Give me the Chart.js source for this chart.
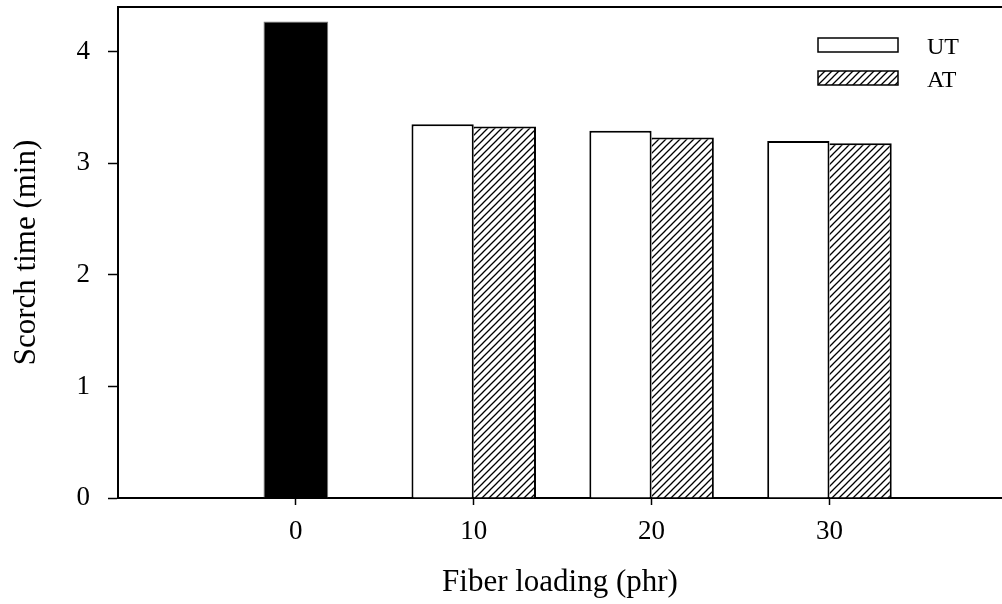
<!DOCTYPE html>
<html>
<head>
<meta charset="utf-8">
<script src="https://cdn.jsdelivr.net/npm/chart.js@4.4.0/dist/chart.umd.min.js"></script>
<style>
  html, body { margin: 0; padding: 0; background: #fff; }
  #wrap { width: 1002px; height: 604px; }
</style>
</head>
<body>
<div id="wrap"><canvas id="chart" width="1002" height="604"></canvas></div>
<script>
const fiberLoading = [0, 10, 20, 30];
const controlTime = [4.27, null, null, null];
const utTime = [null, 3.35, 3.29, 3.20];
const atTime = [null, 3.33, 3.23, 3.18];
const yTicks = [0, 1, 2, 3, 4];

const serif = "'Liberation Serif', 'Times New Roman', serif";

// diagonal "/" hatching for the AT bars
function hatch() {
  const c = document.createElement('canvas');
  c.width = 7; c.height = 7;
  const g = c.getContext('2d');
  g.fillStyle = '#fff';
  g.fillRect(0, 0, 7, 7);
  g.strokeStyle = '#000';
  g.lineWidth = 1.3;
  g.beginPath();
  g.moveTo(-1, 8); g.lineTo(8, -1);
  g.moveTo(-1, 1); g.lineTo(1, -1);
  g.moveTo(6, 8); g.lineTo(8, 6);
  g.stroke();
  return g.createPattern(c, 'repeat');
}

// legend drawn inside the plot, top right, like the original figure
const boxLegend = {
  id: 'boxLegend',
  afterDatasetsDraw(chart) {
    const ctx = chart.ctx;
    const area = chart.chartArea;
    ctx.save();
    ctx.font = '24px ' + serif;
    ctx.textBaseline = 'middle';
    [1, 2].forEach((di, i) => {
      const ds = chart.data.datasets[di];
      const x = area.right - 184, y = area.top + 31 + i * 33;
      ctx.fillStyle = ds.backgroundColor;
      ctx.fillRect(x, y, 80, 14);
      ctx.strokeStyle = '#000';
      ctx.lineWidth = 1.5;
      ctx.strokeRect(x, y, 80, 14);
      ctx.fillStyle = '#000';
      ctx.fillText(ds.label, x + 109, y + 9.5);
    });
    ctx.restore();
  }
};

const tickFont = { family: serif, size: 27 };
const titleFont = { family: serif, size: 31 };

// fixed axis boxes so the plot frame sits where the original one does
const fixBox = (w, h) => s => {
  if (w != null) s.width = w;
  if (h != null) s.height = h;
  s.paddingTop = 0; s.paddingBottom = 0;
  s.paddingLeft = 0; s.paddingRight = 0;
};

window.onload = () => {
  new Chart(document.getElementById('chart'), {
    type: 'bar',
    data: {
      labels: fiberLoading,
      datasets: [
        {
          label: 'Control',
          data: controlTime,
          backgroundColor: '#000',
          borderColor: '#777',
          borderWidth: 1,
          categoryPercentage: 0.7,
          barPercentage: 0.52,
          skipNull: true
        },
        {
          label: 'UT',
          data: utTime,
          backgroundColor: '#fff',
          borderColor: '#000',
          borderWidth: 2,
          categoryPercentage: 0.7,
          barPercentage: 1,
          skipNull: true
        },
        {
          label: 'AT',
          data: atTime,
          backgroundColor: hatch(),
          borderColor: '#000',
          borderWidth: { top: 2, right: 2, left: 0, bottom: 0 },
          categoryPercentage: 0.7,
          barPercentage: 1,
          skipNull: true
        }
      ]
    },
    options: {
      responsive: false,
      animation: false,
      layout: { padding: 0 },
      plugins: {
        legend: { display: false },
        tooltip: { enabled: false }
      },
      scales: {
        x: {
          type: 'linear',
          min: -10,
          max: 39.7,
          offset: false,
          afterFit: fixBox(null, 106),
          afterBuildTicks: s => { s.ticks = fiberLoading.map(v => ({ value: v })); },
          ticks: { color: '#000', font: tickFont, padding: 11, maxRotation: 0, autoSkip: false },
          grid: { display: true, offset: false, drawOnChartArea: false, tickLength: 7, tickWidth: 1.5, tickColor: '#000' },
          border: { display: true, color: '#000', width: 2 },
          title: { display: true, text: 'Fiber loading (phr)', color: '#000', font: titleFont, padding: { top: 0, bottom: 3 } }
        },
        xTop: {
          type: 'linear',
          position: 'top',
          min: -10,
          max: 39.7,
          offset: false,
          afterFit: fixBox(null, 7),
          ticks: { display: false },
          grid: { display: false },
          border: { display: true, color: '#000', width: 2 }
        },
        y: {
          min: 0,
          max: 4.4,
          afterFit: fixBox(118, null),
          afterBuildTicks: s => { s.ticks = yTicks.map(v => ({ value: v })); },
          ticks: { color: '#000', font: tickFont, padding: 18 },
          grid: { display: true, drawOnChartArea: false, tickLength: 10, tickWidth: 1.5, tickColor: '#000' },
          border: { display: true, color: '#000', width: 2 },
          title: { display: true, text: 'Scorch time (min)', color: '#000', font: titleFont, padding: { top: 8, bottom: 0 } }
        }
      }
    },
    plugins: [boxLegend]
  });
};
</script>
</body>
</html>
